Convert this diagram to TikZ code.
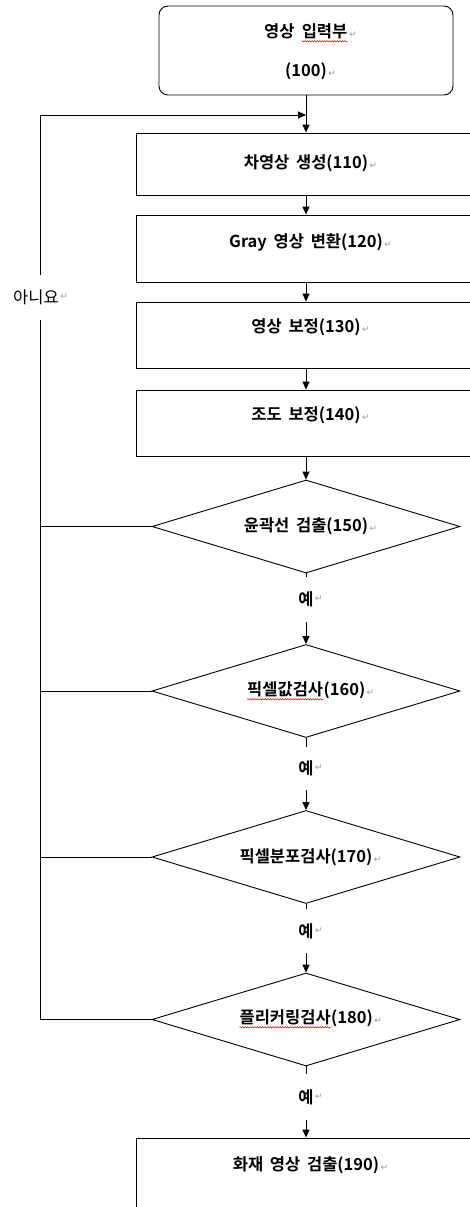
\documentclass[tikz,border=0pt]{standalone}
\usepackage{fontspec}
\usetikzlibrary{shapes.geometric,arrows.meta,decorations.pathmorphing}
\newfontfamily\kr{Noto Sans CJK KR}[WordSpace=1.8]
\newfontfamily\krb{Noto Sans CJK KR Bold}[WordSpace=1.8]
\newfontfamily\symf{DejaVu Sans}
\newcommand\retmark{\rlap{\textcolor{gray!80}{\symf\fontsize{9}{9}\selectfont\,↵}}}
\newcommand\redwave[1]{\tikz[baseline=(wv.base)]{\node[inner sep=0pt] (wv) {#1};
  \draw[red, line width=0.5pt, decorate, decoration={snake,amplitude=0.7pt,segment length=2.5pt}]
    ([yshift=-2pt]wv.south west) -- ([yshift=-2pt]wv.south east);}}
\begin{document}
\begin{tikzpicture}[x=1pt,y=-1pt,line width=0.9pt,
  pbox/.style={draw, rectangle, inner sep=0pt, minimum width=340pt, minimum height=#1},
  decis/.style={draw, diamond, inner sep=0pt, minimum width=308pt, minimum height=93pt},
  txt/.style={inner sep=0pt, font=\krb\fontsize{16.5}{20}\selectfont},
  yeslbl/.style={inner sep=0pt, minimum height=#1, font=\krb\fontsize{16.5}{20}\selectfont},
  arr/.style={-{Triangle[length=8pt,width=7pt]}},
]
\useasboundingbox (0,0) rectangle (470,1207);
\clip (0,0) rectangle (470,1207);
\fill[white] (0,0) rectangle (470,1207);

% input box
\node[draw, rounded corners=9pt, minimum width=294pt, minimum height=89pt, inner sep=0pt] (b100) at (306,50.5) {};
\node[txt] (t100a) at (306,33) {영상 \redwave{입력부}\retmark};
\node[txt] (t100b) at (306,71) {(100)\retmark};

% process boxes
\node[pbox=62pt] (b110) at (306,164) {};
\node[txt] (t110) at (306,163) {차영상 생성(110)\retmark};
\node[pbox=67pt] (b120) at (306,248.5) {};
\node[txt] (t120) at (306,242) {Gray 영상 변환(120)\retmark};
\node[pbox=66pt] (b130) at (306,335) {};
\node[txt] (t130) at (306,327) {영상 보정(130)\retmark};
\node[pbox=66pt] (b140) at (306,423) {};
\node[txt] (t140) at (306,415) {조도 보정(140)\retmark};

% decisions
\node[decis] (d150) at (306,526.5) {};
\node[txt] (t150) at (306,526) {윤곽선 검출(150)\retmark};
\node[decis] (d160) at (306,691) {};
\node[txt] (t160) at (306,691) {\redwave{픽셀값검사}(160)\retmark};
\node[decis] (d170) at (306,857) {};
\node[txt] (t170) at (306,857) {픽셀분포검사(170)\retmark};
\node[decis] (d180) at (306,1019.5) {};
\node[txt] (t180) at (306,1019) {\redwave{플리커링검사}(180)\retmark};

% final box
\node[pbox=102pt] (b190) at (306,1189) {};
\node[txt] (t190) at (306,1165) {화재 영상 검출(190)\retmark};

% yes labels
\node[yeslbl=45pt] (y1) at (306,599.5) {\raisebox{-4pt}{예}\retmark};
\node[yeslbl=43pt] (y2) at (306,768.5) {\raisebox{-4pt}{예}\retmark};
\node[yeslbl=44pt] (y3) at (306,931) {\raisebox{-4pt}{예}\retmark};
\node[yeslbl=46pt] (y4) at (306,1097) {\raisebox{-4pt}{예}\retmark};

% no label
\node[inner sep=0pt, minimum height=45pt, font=\kr\fontsize{16.5}{20}\selectfont] (no) at (36,297.5) {\raisebox{-4pt}{아니요}\retmark};

\coordinate (join) at (306,115);
\coordinate (fbtop) at (40,115);
\coordinate (fbbot) at (d180.west -| fbtop);

% main flow
\draw[arr] (b100.south) -- (b110.north);
\draw[arr] (b110.south) -- (b120.north);
\draw[arr] (b120.south) -- (b130.north);
\draw[arr] (b130.south) -- (b140.north);
\draw[arr] (b140.south) -- (d150.north);
\draw (d150.south) -- (y1.north);
\draw[arr] (y1.south) -- (d160.north);
\draw (d160.south) -- (y2.north);
\draw[arr] (y2.south) -- (d170.north);
\draw (d170.south) -- (y3.north);
\draw[arr] (y3.south) -- (d180.north);
\draw (d180.south) -- (y4.north);
\draw[arr] (y4.south) -- (b190.north);

% feedback
\draw (d150.west) -- (d150.west -| fbtop);
\draw (d160.west) -- (d160.west -| fbtop);
\draw (d170.west) -- (d170.west -| fbtop);
\draw (d180.west) -- (fbbot) -- (fbbot |- no.south);
\draw[arr] (fbtop |- no.north) -- (fbtop) -- (join);
\end{tikzpicture}
\end{document}
